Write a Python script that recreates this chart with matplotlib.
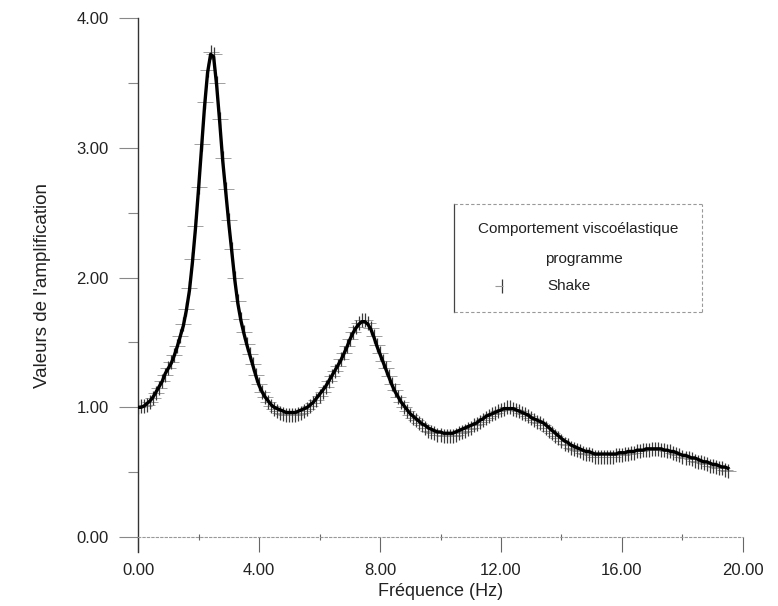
import numpy as np
import matplotlib
matplotlib.use("Agg")
import matplotlib.pyplot as plt
from matplotlib.lines import Line2D
from matplotlib.ticker import MultipleLocator, FormatStrFormatter

plt.rcParams['font.family'] = ['Liberation Sans', 'DejaVu Sans']

# frequency grid (Hz), 0.0 .. 19.5 by 0.1
freq = np.round(np.arange(0, 19.55, 0.1), 1)

# viscoelastic programme (solid line)
prog_amp = [
    1.00, 1.00, 1.01, 1.03, 1.05, 1.08, 1.12, 1.16, 1.20, 1.26,
    1.30, 1.34, 1.40, 1.47, 1.55, 1.63, 1.75, 1.90, 2.12, 2.38,
    2.68, 3.00, 3.32, 3.58, 3.72, 3.70, 3.48, 3.20, 2.90, 2.66,
    2.42, 2.20, 1.98, 1.80, 1.67, 1.57, 1.48, 1.40, 1.32, 1.24,
    1.17, 1.12, 1.08, 1.05, 1.02, 1.00, 0.99, 0.98, 0.97, 0.96,
    0.96, 0.96, 0.96, 0.97, 0.98, 0.99, 1.00, 1.02, 1.04, 1.07,
    1.10, 1.13, 1.16, 1.20, 1.24, 1.28, 1.32, 1.36, 1.41, 1.46,
    1.52, 1.57, 1.61, 1.64, 1.66, 1.66, 1.64, 1.60, 1.54, 1.47,
    1.41, 1.35, 1.29, 1.23, 1.17, 1.12, 1.08, 1.04, 1.01, 0.98,
    0.95, 0.93, 0.91, 0.89, 0.87, 0.86, 0.84, 0.83, 0.82, 0.81,
    0.81, 0.80, 0.80, 0.80, 0.80, 0.81, 0.82, 0.83, 0.84, 0.85,
    0.86, 0.87, 0.88, 0.90, 0.91, 0.93, 0.94, 0.95, 0.96, 0.97,
    0.98, 0.99, 0.99, 0.99, 0.99, 0.98, 0.97, 0.96, 0.95, 0.94,
    0.92, 0.91, 0.90, 0.89, 0.88, 0.86, 0.84, 0.82, 0.80, 0.78,
    0.76, 0.74, 0.73, 0.71, 0.70, 0.69, 0.68, 0.67, 0.66, 0.66,
    0.65, 0.64, 0.64, 0.64, 0.64, 0.64, 0.64, 0.64, 0.64, 0.65,
    0.65, 0.65, 0.66, 0.66, 0.66, 0.67, 0.67, 0.67, 0.68, 0.68,
    0.68, 0.68, 0.68, 0.68, 0.67, 0.67, 0.66, 0.66, 0.65, 0.64,
    0.63, 0.63, 0.62, 0.61, 0.61, 0.60, 0.59, 0.58, 0.58, 0.57,
    0.56, 0.56, 0.55, 0.54, 0.54, 0.53,
]

# Shake results (markers)
shake_amp = [
    1.00, 1.01, 1.01, 1.02, 1.04, 1.07, 1.11, 1.15, 1.20, 1.25,
    1.30, 1.35, 1.40, 1.47, 1.55, 1.64, 1.76, 1.92, 2.14, 2.40,
    2.70, 3.03, 3.35, 3.60, 3.74, 3.72, 3.50, 3.22, 2.92, 2.68,
    2.44, 2.22, 2.00, 1.82, 1.68, 1.58, 1.49, 1.41, 1.33, 1.25,
    1.18, 1.12, 1.08, 1.04, 1.01, 0.99, 0.97, 0.96, 0.95, 0.94,
    0.94, 0.94, 0.94, 0.95, 0.96, 0.97, 0.99, 1.01, 1.03, 1.06,
    1.09, 1.12, 1.16, 1.20, 1.24, 1.28, 1.32, 1.37, 1.42, 1.47,
    1.53, 1.58, 1.62, 1.65, 1.67, 1.67, 1.65, 1.61, 1.55, 1.48,
    1.42, 1.36, 1.30, 1.24, 1.18, 1.13, 1.08, 1.04, 1.00, 0.97,
    0.94, 0.92, 0.90, 0.88, 0.86, 0.84, 0.82, 0.81, 0.80, 0.79,
    0.79, 0.78, 0.78, 0.78, 0.78, 0.79, 0.80, 0.81, 0.82, 0.83,
    0.84, 0.86, 0.87, 0.89, 0.90, 0.92, 0.93, 0.95, 0.96, 0.97,
    0.98, 0.99, 1.00, 1.00, 0.99, 0.98, 0.97, 0.96, 0.95, 0.93,
    0.92, 0.90, 0.89, 0.88, 0.86, 0.84, 0.82, 0.80, 0.78, 0.76,
    0.74, 0.72, 0.71, 0.69, 0.68, 0.67, 0.66, 0.65, 0.64, 0.64,
    0.63, 0.62, 0.62, 0.62, 0.62, 0.62, 0.62, 0.62, 0.63, 0.63,
    0.63, 0.64, 0.64, 0.65, 0.65, 0.66, 0.66, 0.67, 0.67, 0.67,
    0.68, 0.68, 0.68, 0.67, 0.67, 0.66, 0.66, 0.65, 0.64, 0.63,
    0.62, 0.61, 0.61, 0.60, 0.59, 0.58, 0.58, 0.57, 0.56, 0.55,
    0.55, 0.54, 0.53, 0.53, 0.52, 0.51,
]

legend_title = "Comportement viscoélastique"
legend_line = "programme"
legend_marker = "Shake"

fig = plt.figure(figsize=(7.78, 6.06), dpi=100)
ax = fig.add_axes([0.1774, 0.0891, 0.7776, 0.8812])

# Shake: light horizontal arm + dark vertical arm
ax.plot(freq, shake_amp, linestyle='none', marker='_', markersize=12,
        markeredgewidth=0.7, color='#a0a0a0', zorder=2)
ax.plot(freq, shake_amp, linestyle='none', marker='|', markersize=10,
        markeredgewidth=0.9, color='#3a3a3a', zorder=2)
ax.plot(freq, prog_amp, color='black', linewidth=2.4, zorder=3)

ax.set_xlim(0, 20)
ax.set_ylim(-0.115, 4.0)

for s in ['top', 'right']:
    ax.spines[s].set_visible(False)
ax.spines['left'].set_color('#333333')
ax.spines['left'].set_linewidth(1.0)
ax.spines['bottom'].set_position(('data', 0))
ax.spines['bottom'].set_color('#999999')
ax.spines['bottom'].set_linestyle((0, (2, 2)))
ax.spines['bottom'].set_linewidth(0.8)

ax.xaxis.set_major_locator(MultipleLocator(4))
ax.xaxis.set_minor_locator(MultipleLocator(2))
ax.yaxis.set_major_locator(MultipleLocator(1))
ax.yaxis.set_minor_locator(MultipleLocator(0.5))
ax.xaxis.set_major_formatter(FormatStrFormatter('%.2f'))
ax.yaxis.set_major_formatter(FormatStrFormatter('%.2f'))

ax.tick_params(axis='y', which='major', direction='out', length=14, width=0.8,
               color='#888888', pad=7, labelsize=12, labelcolor='#222222')
ax.tick_params(axis='y', which='minor', direction='out', length=7, width=0.8,
               color='#888888')
ax.tick_params(axis='x', which='major', direction='out', length=11, width=0.8,
               color='#666666', pad=8, labelsize=12, labelcolor='#222222')
ax.tick_params(axis='x', which='minor', direction='inout', length=5, width=0.8,
               color='#666666')

ax.set_xlabel("Fréquence (Hz)", fontsize=13, color='#222222', labelpad=3)
ax.set_ylabel("Valeurs de l'amplification", fontsize=13.5, color='#222222', labelpad=18)

# legend box drawn by hand in figure coords
x0, x1 = 454 / 778, 702 / 778
y0, y1 = 1 - 312 / 606, 1 - 204 / 606
fig.add_artist(Line2D([x0, x0], [y0, y1], color='#444444', lw=0.9))
for xs, ys in [([x0, x1], [y1, y1]), ([x0, x1], [y0, y0]), ([x1, x1], [y0, y1])]:
    fig.add_artist(Line2D(xs, ys, color='#999999', lw=0.8, linestyle=(0, (3, 2))))

fig.text(578 / 778, 1 - 229 / 606, legend_title, ha='center', va='center',
         fontsize=11, color='#222222')
fig.text(584 / 778, 1 - 259 / 606, legend_line, ha='center', va='center',
         fontsize=11, color='#222222')
fig.add_artist(Line2D([502 / 778], [1 - 286 / 606], marker='|', markersize=10,
                      markeredgewidth=0.9, color='#3a3a3a', linestyle='none'))
fig.add_artist(Line2D([499 / 778], [1 - 286 / 606], marker='_', markersize=6,
                      markeredgewidth=0.8, color='#999999', linestyle='none'))
fig.text(547 / 778, 1 - 286 / 606, legend_marker, ha='left', va='center',
         fontsize=11, color='#222222')

fig.savefig("out.png", dpi=100)
